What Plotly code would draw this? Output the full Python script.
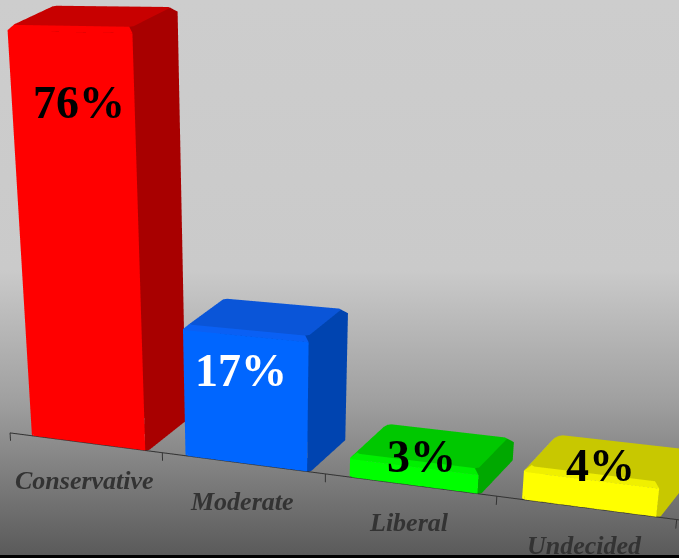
import plotly.graph_objects as go
import numpy as np

categories = ["Conservative", "Moderate", "Liberal", "Undecided"]
labels = ["76%", "17%", "3%", "4%"]
# heights as drawn in the picture (the bars are not proportional to their printed labels)
heights = [51.9, 17, 2.9, 4.0]
slots = [0, 1, 1.985, 2.935, 3.85]   # tick positions along the category axis
front = ["#ff0000", "#0066ff", "#00ff00", "#ffff00"]
side = ["#a80000", "#0044b0", "#00a800", "#c8c800"]
top = ["#c80000", "#0a55d8", "#00c800", "#c8c800"]
chamfer = ["#ff0000", "#0a60f4", "#00f000", "#f0f000"]
label_col = ["black", "white", "black", "black"]

ZS = 0.0532       # world units per value unit
XS = 1.198        # world units per category
YS = 1.0          # world depth scale
X_RANGE = [0, 4.6]
Y_RANGE = [0, 1.0]
Z_RANGE = [-5, 60]
DEPTH = 0.6

H = 1800
f = H / 2 * (1 + 2 ** 0.5)
PX, PY = -194, 900

ex = np.array([.785, .255, -.564])
ey = np.array([.609, -.484, .628])
ez = np.array([-.113, -.837, -.536])
YAW = 0.06
ex, ey = np.cos(YAW) * ex + np.sin(YAW) * ey, -np.sin(YAW) * ex + np.cos(YAW) * ey
D = 15.5
t0_px = (10, 433)
T0 = np.array([(t0_px[0] - PX) / f * D, (t0_px[1] - PY) / f * D, D])
R = np.array([ex, ey, ez]).T  # rows: camera axes in world coords
eye_world = -(R.T @ T0)
fwd_w, up_w = R[2], -R[1]
mid = np.array([sum(X_RANGE) / 2 * XS, sum(Y_RANGE) / 2 * YS, sum(Z_RANGE) / 2 * ZS])
aspect = dict(x=(X_RANGE[1] - X_RANGE[0]) * XS, y=(Y_RANGE[1] - Y_RANGE[0]) * YS, z=(Z_RANGE[1] - Z_RANGE[0]) * ZS)
eye = eye_world - mid
center = eye + 10 * fwd_w


def ring(x0, x1, y0, y1, c, z):
    xs = [x0 + c, x1 - c, x1, x1, x1 - c, x0 + c, x0, x0]
    ys = [y0, y0, y0 + c, y1 - c, y1, y1, y1 - c, y0 + c]
    return xs, ys, [z] * 8


def bar(x0, x1, h, n):
    b = min(.03, h * ZS * .3)
    c = .018
    bz = b / ZS
    rings = [ring(x0, x1, 0, DEPTH, c, 0), ring(x0, x1, 0, DEPTH, c, h - bz),
             ring(x0 + b, x1 - b, b, DEPTH - b, c, h)]
    X = sum((r[0] for r in rings), [])
    Y = sum((r[1] for r in rings), [])
    Z = sum((r[2] for r in rings), [])
    wall = [front[n], side[n], side[n], side[n], side[n], side[n], front[n], front[n]]
    cham = [chamfer[n], side[n], side[n], top[n], top[n], top[n], top[n], chamfer[n]]
    I, J, K, C = [], [], [], []
    for lvl, cols in enumerate([wall, cham]):
        for e in range(8):
            a, d = lvl * 8 + e, lvl * 8 + (e + 1) % 8
            u, w = a + 8, d + 8
            I += [a, a]; J += [d, w]; K += [w, u]; C += [cols[e], cols[e]]
    for e in range(1, 7):
        I.append(16); J.append(16 + e); K.append(16 + e + 1); C.append(top[n])
    return go.Mesh3d(x=X, y=Y, z=Z, i=I, j=J, k=K, facecolor=C, flatshading=True,
                     lighting=dict(ambient=1, diffuse=0, specular=0, roughness=1, fresnel=0), hoverinfo="skip")


fig = go.Figure()
for n, v in enumerate(heights):
    w = slots[n + 1] - slots[n]
    fig.add_trace(bar(slots[n] + .14 * w, slots[n] + .91 * w, v, n))

ax_x, ax_y, ax_z = [0, X_RANGE[1]], [0, 0], [0, 0]
for t in slots:
    ax_x += [None, t, t]; ax_y += [None, 0, 0]; ax_z += [None, 0, -1.1]
fig.add_trace(go.Scatter3d(x=ax_x, y=ax_y, z=ax_z, mode="lines", line=dict(color="#333333", width=2),
                           hoverinfo="skip"))

serif = "Liberation Serif"
pct_pos = [(.56, 0, 43.3), (1.49, 0, 12), (2.48, .13, 2.7), (3.415, .17, 4.0)]
annots = [dict(x=p[0], y=p[1], z=p[2], text=f"<b>{l}</b>", showarrow=False,
               font=dict(size=46, family=serif, color=c)) for p, l, c in zip(pct_pos, labels, label_col)]
annots += [dict(x=(slots[n] + slots[n + 1]) / 2, y=0, z=0, yshift=-38, text=f"<b><i>{c}</i></b>", showarrow=False,
                font=dict(size=26, family=serif, color="#333333")) for n, c in enumerate(categories)]

axis = dict(visible=False, showgrid=False, zeroline=False, showbackground=False, showspikes=False)
fig.update_layout(
    width=H, height=H, margin=dict(l=0, r=0, t=0, b=0), showlegend=False,
    paper_bgcolor="rgba(0,0,0,0)", plot_bgcolor="rgba(0,0,0,0)",
    scene=dict(domain=dict(x=[0, 1], y=[0, 1]), bgcolor="rgba(0,0,0,0)", dragmode="orbit",
               xaxis=dict(axis, range=X_RANGE), yaxis=dict(axis, range=Y_RANGE), zaxis=dict(axis, range=Z_RANGE),
               aspectmode="manual", aspectratio=aspect,
               camera=dict(eye=dict(x=eye[0], y=eye[1], z=eye[2]), center=dict(x=center[0], y=center[1], z=center[2]),
                           up=dict(x=up_w[0], y=up_w[1], z=up_w[2]), projection=dict(type="perspective")),
               annotations=annots),
)
post = f"""
var d=document.getElementById('{{plot_id}}');
document.documentElement.style.height='100%';
document.body.style.cssText='margin:0;height:558px;overflow:hidden;background:linear-gradient(to bottom,#cdcdcd 0,#cacaca 270px,#a0a0a0 400px,#5a5a5a 555px,#000 555px,#000 558px) no-repeat';
d.style.position='fixed';d.style.left='{PX - H / 2}px';d.style.top='{PY - H / 2}px';
"""
fig.write_html("out.html", post_script=post, config=dict(displayModeBar=False))
